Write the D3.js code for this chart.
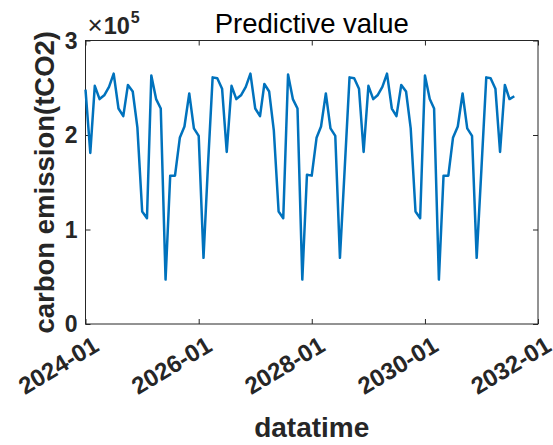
<!DOCTYPE html>
<html><head><meta charset="utf-8">
<script src="https://cdn.jsdelivr.net/npm/d3@7"></script>
<style>body{margin:0;background:#fff}svg{display:block}</style>
</head><body><svg id="c" width="553" height="445"></svg>
<script>
// Monthly predicted carbon emission (tCO2), starting 2024-01
const startMonth = "2024-01";
const values = [
  248000,181000,252000,238000,242000,251000,265000,228000,220000,253000,246000,208000,119000,112000,263000,238000,228000,47000,157000,157000,197000,209000,244000,207000,199000,70000,165000,261000,260000,
  249000,182000,252000,238000,242000,251000,265000,228000,220000,254000,246000,205000,119000,112000,264000,238000,228000,47000,158000,157000,197000,209000,244000,207000,199000,70000,165000,261000,260000,
  249000,182000,252000,238000,242000,251000,265000,228000,220000,253000,246000,207000,119000,112000,263000,238000,228000,47000,157000,157000,197000,209000,244000,207000,199000,70000,165000,261000,260000,
  249000,182000,253000,238000,241000
];
const yTicks = [0, 100000, 200000, 300000];
const yTickLabels = ["0", "1", "2", "3"];
const xTickLabels = ["2024-01", "2026-01", "2028-01", "2030-01", "2032-01"];
const titleText = "Predictive value";
const xLabel = "datatime";
const yLabel = "carbon emission(tCO2)";

const parseMonth = d3.timeParse("%Y-%m");
const t0 = parseMonth(startMonth);
const data = values.map((v, i) => ({date: d3.timeMonth.offset(t0, i), value: v}));
const xTickDates = xTickLabels.map(parseMonth);

const svg = d3.select("#c");
const L = 85.5, R = 538, T = 40.5, B = 324;
const x = d3.scaleTime().domain([xTickDates[0], xTickDates[xTickDates.length - 1]]).range([L, R]);
const y = d3.scaleLinear().domain([0, 300000]).range([B, T]);
const axisColor = "#262626";
const font = "'Liberation Sans', Arial, Helvetica, sans-serif";

// Box
svg.append("rect").attr("x", L).attr("y", T).attr("width", R - L).attr("height", B - T)
  .attr("fill", "none").attr("stroke", axisColor).attr("stroke-width", 1);

// Axes (inward ticks, mirrored)
const gx = svg.append("g").attr("transform", `translate(0,${B})`)
  .call(d3.axisBottom(x).tickValues(xTickDates).tickSizeInner(-5).tickSizeOuter(0).tickFormat(""));
const gxt = svg.append("g").attr("transform", `translate(0,${T})`)
  .call(d3.axisTop(x).tickValues(xTickDates).tickSizeInner(-5).tickSizeOuter(0).tickFormat(""));
const gy = svg.append("g").attr("transform", `translate(${L},0)`)
  .call(d3.axisLeft(y).tickValues(yTicks).tickSizeInner(-5).tickSizeOuter(0).tickFormat(""));
const gyr = svg.append("g").attr("transform", `translate(${R},0)`)
  .call(d3.axisRight(y).tickValues(yTicks).tickSizeInner(-5).tickSizeOuter(0).tickFormat(""));
[gx, gxt, gy, gyr].forEach(g => {
  g.select(".domain").remove();
  g.selectAll("line").attr("stroke", axisColor);
});

// X tick labels (rotated)
svg.append("g").selectAll("text").data(xTickDates).join("text")
  .attr("transform", d => `translate(${x(d) + 6},${B + 11}) rotate(-31)`)
  .attr("text-anchor", "end").attr("dy", "0.72em")
  .attr("font-family", font).attr("font-weight", "bold").attr("font-size", 24)
  .attr("fill", axisColor)
  .text((d, i) => xTickLabels[i]);

// Y tick labels
svg.append("g").selectAll("text").data(yTicks).join("text")
  .attr("x", L - 8).attr("y", d => y(d)).attr("dy", "0.36em")
  .attr("text-anchor", "end")
  .attr("font-family", font).attr("font-weight", "bold").attr("font-size", 23)
  .attr("fill", axisColor)
  .text((d, i) => yTickLabels[i]);

// Exponent label ×10^5
const ex = svg.append("text").attr("x", L + 2).attr("y", 34)
  .attr("font-family", font).attr("fill", axisColor);
ex.append("tspan").attr("font-size", 26).text("\u00d7");
ex.append("tspan").attr("font-weight", "bold").attr("font-size", 23.5).attr("dx", 1).text("10");
ex.append("tspan").attr("font-weight", "bold").attr("font-size", 16).attr("dx", 1).attr("dy", -11).text("5");

// Title
svg.append("text").attr("x", (L + R) / 2).attr("y", 33).attr("text-anchor", "middle")
  .attr("font-family", font).attr("font-size", 27.5).attr("fill", "#000").text(titleText);

// Axis labels
svg.append("text").attr("x", (L + R) / 2).attr("y", 437).attr("text-anchor", "middle")
  .attr("font-family", font).attr("font-weight", "bold").attr("font-size", 28)
  .attr("fill", axisColor).text(xLabel);
svg.append("text").attr("transform", `translate(54,${(T + B) / 2}) rotate(-90)`)
  .attr("text-anchor", "middle")
  .attr("font-family", font).attr("font-weight", "bold").attr("font-size", 27.5)
  .attr("fill", axisColor).text(yLabel);

// Line
const line = d3.line().x(d => x(d.date)).y(d => y(d.value));
svg.append("path").datum(data).attr("d", line)
  .attr("fill", "none").attr("stroke", "#0072BD").attr("stroke-width", 2.5)
  .attr("stroke-linejoin", "round");
</script></body></html>
